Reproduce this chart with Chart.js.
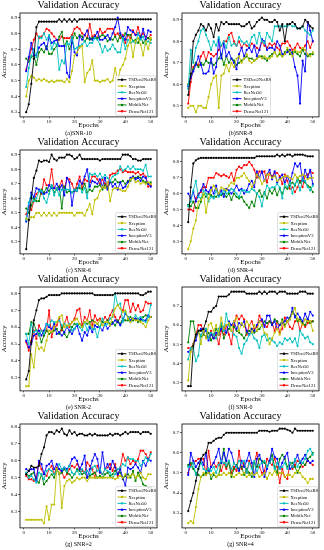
<!DOCTYPE html>
<html>
<head>
<meta charset="utf-8">
<script src="https://cdn.jsdelivr.net/npm/chart.js@4.4.0/dist/chart.umd.min.js"></script>
<style>
  html, body { margin: 0; padding: 0; background: #fff; }
  #grid { position: relative; width: 324px; height: 550px; }
  .cell { position: absolute; width: 162px; height: 137px; }
</style>
</head>
<body>
<div id="grid"></div>
<script>
const epochs = [1,2,3,4,5,6,7,8,9,10,11,12,13,14,15,16,17,18,19,20,21,22,23,24,25,26,27,28,29,30,
  31,32,33,34,35,36,37,38,39,40,41,42,43,44,45,46,47,48,49,50];
const modelNames = ['TSDen2NetBS', 'Xception', 'ResNet50', 'InceptionV3', 'MobileNet', 'DenseNet121'];
const modelColors = ['#000000', '#bfbf00', '#00bfbf', '#0000ff', '#008000', '#ff0000'];
const captions = ['(a)SNR-10', '(b)SNR-8', '(c) SNR-6', '(d) SNR-4', '(e) SNR-2', '(f) SNR-0', '(g) SNR=2', '(g) SNR=4'];
const legendPos = ['lr', 'lc', 'lr', 'lr', 'lr', 'lr', 'lr', 'lr'];

// (a) SNR-10
const a_tsd = [0.30,0.35,0.48,0.64,0.84,0.875,0.875,0.875,0.875,0.875,0.875,0.875,0.875,0.89,0.875,0.89,0.875,0.89,0.875,0.89,
  0.875,0.89,0.89,0.89,0.89,0.89,0.89,0.89,0.89,0.89,0.89,0.89,0.89,0.89,0.89,0.89,0.89,0.89,0.89,0.89,
  0.89,0.89,0.89,0.89,0.89,0.89,0.89,0.89,0.89,0.89];
const a_xcp = [0.40,0.50,0.53,0.52,0.50,0.51,0.50,0.51,0.50,0.49,0.50,0.49,0.50,0.50,0.50,0.49,0.51,0.49,0.56,0.66,
  0.68,0.71,0.72,0.49,0.55,0.57,0.63,0.50,0.50,0.49,0.50,0.50,0.51,0.49,0.50,0.58,0.50,0.57,0.60,0.64,
  0.72,0.76,0.65,0.75,0.77,0.73,0.66,0.75,0.70,0.77];
const a_res = [0.46,0.58,0.66,0.70,0.65,0.78,0.77,0.80,0.76,0.79,0.70,0.74,0.73,0.57,0.63,0.61,0.74,0.73,0.78,0.70,
  0.71,0.72,0.73,0.75,0.72,0.74,0.74,0.77,0.76,0.73,0.68,0.72,0.69,0.70,0.73,0.70,0.68,0.68,0.77,0.70,
  0.76,0.74,0.75,0.74,0.80,0.76,0.78,0.73,0.75,0.74];
const a_inc = [0.56,0.65,0.74,0.66,0.66,0.71,0.73,0.74,0.70,0.78,0.74,0.75,0.76,0.72,0.72,0.72,0.55,0.52,0.77,0.68,
  0.66,0.78,0.76,0.79,0.82,0.77,0.76,0.78,0.81,0.76,0.76,0.77,0.79,0.76,0.80,0.84,0.90,0.80,0.78,0.76,
  0.84,0.82,0.81,0.79,0.80,0.77,0.83,0.76,0.82,0.81];
const a_mob = [0.64,0.62,0.65,0.66,0.60,0.68,0.70,0.68,0.72,0.67,0.67,0.70,0.72,0.78,0.81,0.72,0.75,0.70,0.74,0.80,
  0.77,0.79,0.78,0.75,0.77,0.76,0.77,0.78,0.77,0.78,0.79,0.78,0.75,0.77,0.76,0.78,0.75,0.79,0.76,0.80,
  0.79,0.79,0.75,0.76,0.74,0.78,0.74,0.76,0.77,0.76];
const a_den = [0.57,0.64,0.70,0.76,0.80,0.77,0.78,0.80,0.83,0.82,0.80,0.78,0.76,0.76,0.78,0.77,0.77,0.77,0.79,0.83,
  0.84,0.83,0.80,0.79,0.77,0.86,0.78,0.79,0.77,0.83,0.80,0.81,0.83,0.83,0.83,0.79,0.80,0.77,0.79,0.74,
  0.79,0.77,0.82,0.79,0.84,0.78,0.80,0.78,0.77,0.79];

// (b) SNR-8
const b_tsd = [0.55,0.65,0.80,0.83,0.85,0.88,0.87,0.85,0.88,0.86,0.82,0.88,0.85,0.89,0.88,0.89,0.88,0.88,0.88,0.88,
  0.88,0.87,0.87,0.88,0.89,0.86,0.87,0.89,0.90,0.91,0.90,0.90,0.89,0.89,0.90,0.89,0.85,0.88,0.80,0.88,
  0.88,0.89,0.88,0.86,0.86,0.87,0.90,0.89,0.87,0.86];
const b_xcp = [0.49,0.50,0.50,0.47,0.50,0.50,0.49,0.49,0.54,0.60,0.63,0.64,0.49,0.64,0.65,0.69,0.66,0.70,0.68,0.72,
  0.73,0.70,0.72,0.74,0.71,0.70,0.71,0.72,0.73,0.72,0.73,0.72,0.72,0.73,0.75,0.73,0.75,0.73,0.74,0.77,
  0.75,0.73,0.76,0.75,0.75,0.77,0.76,0.74,0.73,0.75];
const b_res = [0.58,0.76,0.70,0.77,0.80,0.85,0.86,0.83,0.80,0.76,0.80,0.78,0.82,0.78,0.80,0.77,0.82,0.78,0.79,0.78,
  0.82,0.80,0.79,0.80,0.78,0.82,0.83,0.79,0.84,0.80,0.79,0.84,0.82,0.80,0.87,0.87,0.87,0.87,0.87,0.87,
  0.88,0.87,0.87,0.86,0.86,0.87,0.85,0.84,0.83,0.85];
const b_inc = [0.59,0.63,0.66,0.69,0.73,0.69,0.65,0.65,0.66,0.72,0.65,0.68,0.81,0.72,0.79,0.73,0.75,0.72,0.70,0.67,
  0.74,0.77,0.73,0.76,0.77,0.75,0.78,0.73,0.76,0.81,0.80,0.76,0.77,0.77,0.76,0.80,0.78,0.74,0.74,0.75,
  0.76,0.74,0.68,0.64,0.51,0.71,0.66,0.89,0.85,0.80];
const b_mob = [0.60,0.64,0.67,0.70,0.68,0.70,0.69,0.71,0.70,0.70,0.69,0.70,0.72,0.74,0.69,0.73,0.70,0.72,0.71,0.69,
  0.70,0.71,0.72,0.73,0.72,0.72,0.71,0.72,0.73,0.73,0.72,0.71,0.73,0.74,0.75,0.73,0.74,0.73,0.75,0.76,
  0.74,0.75,0.75,0.74,0.73,0.76,0.74,0.73,0.74,0.74];
const b_den = [0.51,0.61,0.68,0.70,0.69,0.73,0.75,0.71,0.75,0.74,0.73,0.74,0.76,0.78,0.80,0.80,0.83,0.84,0.80,0.78,
  0.80,0.77,0.79,0.78,0.77,0.79,0.78,0.77,0.76,0.80,0.78,0.77,0.79,0.78,0.79,0.77,0.76,0.79,0.79,0.80,
  0.78,0.76,0.77,0.79,0.77,0.76,0.78,0.80,0.77,0.80];

// (c) SNR-6
const c_tsd = [0.25,0.45,0.60,0.74,0.79,0.86,0.85,0.86,0.86,0.85,0.90,0.87,0.86,0.88,0.88,0.88,0.90,0.90,0.89,0.87,
  0.88,0.90,0.87,0.87,0.87,0.87,0.87,0.87,0.87,0.86,0.87,0.87,0.87,0.87,0.87,0.87,0.87,0.87,0.90,0.90,
  0.90,0.89,0.87,0.87,0.86,0.86,0.87,0.87,0.87,0.87];
const c_xcp = [0.46,0.45,0.47,0.47,0.50,0.50,0.48,0.50,0.48,0.50,0.48,0.50,0.48,0.50,0.50,0.50,0.50,0.50,0.50,0.48,
  0.50,0.50,0.50,0.48,0.52,0.56,0.49,0.59,0.60,0.65,0.68,0.67,0.71,0.58,0.66,0.67,0.67,0.66,0.65,0.65,
  0.68,0.73,0.74,0.71,0.72,0.70,0.71,0.70,0.71,0.70];
const c_res = [0.45,0.57,0.62,0.58,0.60,0.65,0.65,0.60,0.57,0.63,0.69,0.62,0.67,0.62,0.66,0.66,0.66,0.66,0.64,0.66,
  0.65,0.69,0.64,0.67,0.60,0.77,0.76,0.77,0.75,0.77,0.74,0.76,0.74,0.72,0.75,0.76,0.77,0.82,0.79,0.80,
  0.82,0.80,0.82,0.80,0.80,0.80,0.79,0.83,0.75,0.75];
const c_inc = [0.44,0.55,0.64,0.61,0.67,0.66,0.64,0.63,0.64,0.69,0.67,0.67,0.70,0.66,0.69,0.62,0.74,0.71,0.55,0.66,
  0.65,0.72,0.70,0.75,0.80,0.68,0.72,0.71,0.70,0.73,0.68,0.74,0.66,0.72,0.68,0.70,0.66,0.71,0.67,0.68,
  0.71,0.74,0.75,0.73,0.74,0.72,0.75,0.74,0.70,0.68];
const c_mob = [0.53,0.50,0.55,0.60,0.58,0.58,0.66,0.64,0.67,0.65,0.69,0.64,0.66,0.68,0.53,0.68,0.64,0.65,0.64,0.65,
  0.67,0.67,0.66,0.70,0.64,0.66,0.65,0.68,0.68,0.69,0.66,0.69,0.67,0.71,0.71,0.73,0.71,0.71,0.72,0.70,
  0.72,0.72,0.75,0.74,0.75,0.74,0.72,0.71,0.70,0.71];
const c_den = [0.49,0.54,0.52,0.58,0.63,0.65,0.63,0.73,0.69,0.69,0.80,0.67,0.67,0.68,0.72,0.66,0.74,0.73,0.70,0.65,
  0.70,0.75,0.67,0.73,0.72,0.71,0.75,0.75,0.73,0.70,0.73,0.70,0.68,0.76,0.77,0.77,0.79,0.80,0.78,0.79,
  0.78,0.78,0.78,0.77,0.78,0.76,0.77,0.75,0.68,0.69];

// (d) SNR-4
const d_tsd = [0.42,0.64,0.79,0.81,0.82,0.825,0.825,0.825,0.825,0.825,0.825,0.825,0.825,0.825,0.825,0.825,0.825,0.825,0.825,0.825,
  0.825,0.825,0.825,0.825,0.825,0.825,0.825,0.835,0.835,0.835,0.835,0.835,0.835,0.835,0.835,0.845,0.835,0.845,0.835,0.845,
  0.845,0.835,0.845,0.845,0.845,0.845,0.84,0.835,0.835,0.835];
const d_xcp = [0.25,0.30,0.38,0.43,0.55,0.56,0.60,0.48,0.57,0.62,0.65,0.63,0.60,0.64,0.63,0.62,0.65,0.67,0.66,0.70,
  0.70,0.71,0.73,0.70,0.68,0.64,0.67,0.72,0.70,0.66,0.68,0.72,0.72,0.70,0.71,0.68,0.69,0.70,0.71,0.71,
  0.70,0.69,0.72,0.70,0.71,0.72,0.71,0.69,0.70,0.70];
const d_res = [0.52,0.55,0.62,0.68,0.58,0.57,0.62,0.60,0.55,0.58,0.57,0.62,0.58,0.60,0.62,0.60,0.61,0.63,0.62,0.60,
  0.58,0.62,0.62,0.61,0.61,0.63,0.62,0.60,0.58,0.52,0.60,0.65,0.63,0.64,0.64,0.66,0.64,0.57,0.66,0.64,
  0.67,0.60,0.66,0.68,0.62,0.69,0.68,0.64,0.62,0.65];
const d_inc = [0.60,0.57,0.61,0.55,0.59,0.62,0.66,0.62,0.61,0.64,0.60,0.65,0.59,0.62,0.58,0.63,0.62,0.60,0.62,0.65,
  0.62,0.63,0.60,0.62,0.66,0.68,0.64,0.74,0.70,0.74,0.68,0.72,0.75,0.69,0.74,0.67,0.70,0.72,0.67,0.71,
  0.67,0.73,0.79,0.77,0.79,0.68,0.75,0.70,0.75,0.66];
const d_mob = [0.53,0.52,0.55,0.51,0.51,0.55,0.60,0.58,0.60,0.59,0.58,0.58,0.60,0.59,0.60,0.58,0.60,0.56,0.60,0.58,
  0.57,0.58,0.55,0.53,0.51,0.55,0.52,0.60,0.62,0.58,0.61,0.57,0.62,0.60,0.63,0.59,0.63,0.60,0.64,0.63,
  0.65,0.67,0.65,0.70,0.67,0.69,0.67,0.65,0.64,0.61];
const d_den = [0.50,0.50,0.49,0.57,0.60,0.61,0.64,0.64,0.70,0.70,0.70,0.73,0.72,0.71,0.72,0.71,0.70,0.73,0.68,0.75,
  0.77,0.76,0.78,0.78,0.80,0.78,0.75,0.70,0.74,0.73,0.74,0.67,0.73,0.71,0.73,0.73,0.71,0.66,0.72,0.68,
  0.63,0.64,0.61,0.64,0.68,0.64,0.71,0.72,0.74,0.73];

// (e) SNR-2
const e_tsd = [0.29,0.34,0.51,0.64,0.70,0.76,0.77,0.77,0.78,0.79,0.79,0.79,0.79,0.79,0.80,0.80,0.80,0.80,0.80,0.80,
  0.80,0.80,0.80,0.80,0.80,0.80,0.80,0.79,0.79,0.79,0.79,0.79,0.79,0.79,0.79,0.80,0.80,0.80,0.80,0.80,
  0.80,0.80,0.80,0.80,0.80,0.79,0.79,0.80,0.81,0.81];
const e_xcp = [0.25,0.25,0.44,0.36,0.51,0.47,0.48,0.46,0.52,0.58,0.57,0.60,0.63,0.66,0.67,0.60,0.61,0.61,0.63,0.64,
  0.65,0.62,0.60,0.63,0.64,0.62,0.60,0.63,0.62,0.64,0.61,0.63,0.63,0.61,0.67,0.71,0.73,0.71,0.69,0.70,
  0.65,0.63,0.65,0.64,0.64,0.63,0.62,0.60,0.64,0.66];
const e_res = [0.56,0.50,0.62,0.57,0.58,0.55,0.58,0.56,0.62,0.61,0.64,0.63,0.63,0.64,0.61,0.62,0.60,0.62,0.58,0.59,
  0.62,0.60,0.58,0.63,0.58,0.62,0.59,0.59,0.54,0.60,0.65,0.61,0.62,0.65,0.66,0.80,0.73,0.74,0.63,0.69,
  0.66,0.63,0.65,0.67,0.65,0.66,0.64,0.63,0.66,0.73];
const e_inc = [0.52,0.48,0.50,0.55,0.56,0.58,0.55,0.58,0.62,0.60,0.59,0.62,0.56,0.57,0.55,0.57,0.60,0.58,0.56,0.59,
  0.61,0.56,0.52,0.57,0.55,0.60,0.57,0.61,0.60,0.60,0.58,0.62,0.59,0.61,0.62,0.64,0.63,0.61,0.64,0.68,
  0.66,0.64,0.65,0.65,0.64,0.65,0.64,0.64,0.67,0.66];
const e_mob = [0.56,0.56,0.63,0.62,0.58,0.56,0.51,0.55,0.58,0.56,0.57,0.58,0.59,0.56,0.60,0.56,0.54,0.57,0.60,0.62,
  0.61,0.62,0.60,0.63,0.62,0.63,0.64,0.63,0.62,0.60,0.63,0.62,0.64,0.62,0.63,0.61,0.64,0.62,0.65,0.64,
  0.64,0.66,0.64,0.65,0.63,0.64,0.66,0.67,0.66,0.66];
const e_den = [0.51,0.46,0.52,0.58,0.53,0.61,0.58,0.55,0.58,0.70,0.54,0.60,0.61,0.65,0.58,0.62,0.66,0.60,0.63,0.65,
  0.70,0.71,0.61,0.66,0.64,0.70,0.61,0.67,0.64,0.65,0.63,0.66,0.64,0.67,0.70,0.66,0.63,0.66,0.70,0.76,
  0.76,0.69,0.74,0.70,0.73,0.69,0.70,0.75,0.74,0.74];

// (f) SNR-0
const f_tsd = [0.28,0.28,0.49,0.55,0.57,0.57,0.58,0.62,0.67,0.67,0.69,0.70,0.75,0.75,0.75,0.75,0.76,0.775,0.775,0.775,
  0.775,0.775,0.775,0.765,0.765,0.765,0.765,0.765,0.775,0.765,0.775,0.765,0.775,0.775,0.775,0.765,0.775,0.775,0.775,0.765,
  0.765,0.765,0.765,0.765,0.775,0.775,0.775,0.765,0.765,0.765];
const f_xcp = [0.31,0.46,0.50,0.55,0.57,0.50,0.57,0.53,0.60,0.61,0.57,0.60,0.55,0.64,0.58,0.60,0.61,0.57,0.62,0.64,
  0.57,0.61,0.59,0.62,0.60,0.56,0.60,0.57,0.62,0.60,0.56,0.55,0.50,0.53,0.56,0.58,0.55,0.62,0.59,0.62,
  0.63,0.66,0.69,0.63,0.62,0.60,0.63,0.62,0.62,0.57];
const f_res = [0.42,0.48,0.48,0.41,0.44,0.55,0.57,0.58,0.53,0.56,0.55,0.53,0.58,0.61,0.57,0.66,0.60,0.57,0.55,0.54,
  0.48,0.45,0.50,0.52,0.55,0.56,0.53,0.52,0.48,0.54,0.55,0.52,0.53,0.52,0.51,0.49,0.51,0.50,0.53,0.52,
  0.53,0.51,0.53,0.49,0.57,0.55,0.53,0.54,0.51,0.50];
const f_inc = [0.46,0.47,0.50,0.52,0.57,0.58,0.56,0.57,0.52,0.55,0.53,0.56,0.55,0.58,0.59,0.56,0.62,0.60,0.62,0.58,
  0.61,0.60,0.62,0.57,0.55,0.58,0.57,0.60,0.62,0.63,0.59,0.65,0.65,0.60,0.62,0.58,0.60,0.61,0.62,0.64,
  0.63,0.69,0.64,0.66,0.64,0.62,0.66,0.63,0.67,0.65];
const f_mob = [0.51,0.62,0.62,0.54,0.56,0.54,0.55,0.54,0.56,0.52,0.55,0.58,0.55,0.60,0.53,0.56,0.58,0.60,0.59,0.57,
  0.56,0.55,0.53,0.56,0.57,0.58,0.56,0.57,0.58,0.60,0.62,0.61,0.62,0.60,0.63,0.62,0.60,0.63,0.60,0.62,
  0.64,0.67,0.65,0.62,0.63,0.61,0.60,0.63,0.61,0.62];
const f_den = [0.48,0.48,0.50,0.55,0.60,0.60,0.57,0.58,0.53,0.57,0.53,0.55,0.50,0.57,0.55,0.60,0.55,0.50,0.60,0.65,
  0.63,0.65,0.63,0.55,0.60,0.62,0.58,0.59,0.65,0.62,0.60,0.59,0.62,0.61,0.57,0.62,0.56,0.58,0.64,0.62,
  0.59,0.58,0.62,0.63,0.57,0.61,0.59,0.61,0.62,0.62];

// (g) SNR=2
const g_tsd = [0.52,0.54,0.57,0.56,0.56,0.57,0.64,0.68,0.75,0.77,0.77,0.76,0.78,0.77,0.79,0.76,0.75,0.78,0.76,0.77,
  0.75,0.76,0.76,0.75,0.75,0.76,0.75,0.76,0.75,0.75,0.75,0.75,0.75,0.76,0.75,0.76,0.76,0.75,0.76,0.77,
  0.76,0.77,0.77,0.77,0.77,0.76,0.77,0.77,0.77,0.76];
const g_xcp = [0.25,0.25,0.25,0.25,0.25,0.25,0.25,0.23,0.33,0.25,0.34,0.34,0.55,0.53,0.32,0.45,0.48,0.49,0.47,0.48,
  0.50,0.49,0.50,0.50,0.48,0.50,0.50,0.50,0.50,0.50,0.50,0.50,0.50,0.50,0.50,0.49,0.50,0.51,0.50,0.52,
  0.50,0.51,0.52,0.50,0.51,0.53,0.50,0.49,0.52,0.52];
const g_res = [0.53,0.50,0.51,0.49,0.47,0.53,0.52,0.49,0.54,0.55,0.54,0.52,0.54,0.58,0.55,0.56,0.54,0.57,0.53,0.52,
  0.54,0.52,0.55,0.53,0.54,0.52,0.56,0.57,0.54,0.55,0.52,0.55,0.54,0.53,0.50,0.52,0.55,0.56,0.58,0.57,
  0.62,0.61,0.61,0.60,0.60,0.57,0.59,0.62,0.60,0.64];
const g_inc = [0.55,0.54,0.55,0.55,0.48,0.60,0.58,0.52,0.57,0.58,0.60,0.55,0.58,0.55,0.54,0.56,0.55,0.57,0.61,0.62,
  0.60,0.55,0.58,0.63,0.50,0.55,0.60,0.64,0.61,0.53,0.65,0.55,0.58,0.55,0.60,0.56,0.52,0.55,0.50,0.45,
  0.56,0.55,0.56,0.58,0.56,0.53,0.60,0.57,0.61,0.60];
const g_mob = [0.52,0.51,0.52,0.53,0.48,0.47,0.52,0.46,0.48,0.50,0.52,0.50,0.55,0.52,0.53,0.55,0.53,0.52,0.50,0.52,
  0.55,0.54,0.52,0.53,0.50,0.51,0.52,0.53,0.50,0.51,0.50,0.52,0.53,0.51,0.52,0.54,0.52,0.53,0.49,0.51,
  0.52,0.50,0.54,0.48,0.53,0.50,0.46,0.45,0.44,0.44];
const g_den = [0.51,0.49,0.49,0.48,0.50,0.59,0.55,0.52,0.51,0.55,0.57,0.52,0.56,0.55,0.53,0.50,0.52,0.55,0.57,0.56,
  0.58,0.56,0.54,0.53,0.59,0.57,0.55,0.50,0.57,0.53,0.52,0.55,0.56,0.58,0.54,0.58,0.51,0.56,0.64,0.60,
  0.62,0.58,0.60,0.59,0.61,0.66,0.66,0.64,0.61,0.65];

// (h) SNR=4
const h_tsd = [0.31,0.36,0.40,0.46,0.52,0.57,0.59,0.60,0.65,0.65,0.66,0.67,0.675,0.675,0.69,0.70,0.70,0.70,0.70,0.70,
  0.70,0.70,0.70,0.70,0.70,0.70,0.70,0.70,0.71,0.71,0.71,0.71,0.705,0.71,0.71,0.71,0.72,0.72,0.72,0.715,
  0.71,0.70,0.72,0.71,0.71,0.71,0.71,0.71,0.71,0.71];
const h_xcp = [0.25,0.26,0.25,0.33,0.42,0.48,0.50,0.49,0.50,0.49,0.50,0.48,0.49,0.49,0.50,0.49,0.50,0.49,0.48,0.49,
  0.50,0.49,0.50,0.48,0.49,0.50,0.49,0.50,0.48,0.49,0.50,0.47,0.50,0.49,0.51,0.49,0.50,0.50,0.48,0.49,
  0.49,0.48,0.50,0.51,0.50,0.48,0.47,0.45,0.47,0.47];
const h_res = [0.53,0.53,0.55,0.49,0.52,0.55,0.52,0.51,0.52,0.51,0.53,0.50,0.54,0.56,0.55,0.54,0.56,0.52,0.55,0.53,
  0.56,0.55,0.56,0.50,0.55,0.52,0.56,0.50,0.54,0.55,0.56,0.53,0.55,0.57,0.52,0.55,0.52,0.53,0.55,0.52,
  0.55,0.53,0.57,0.53,0.56,0.55,0.57,0.61,0.62,0.59];
const h_inc = [0.49,0.60,0.56,0.53,0.55,0.57,0.54,0.60,0.50,0.53,0.55,0.58,0.62,0.55,0.60,0.56,0.62,0.60,0.55,0.53,
  0.51,0.56,0.53,0.56,0.60,0.55,0.48,0.57,0.59,0.55,0.48,0.52,0.56,0.62,0.58,0.57,0.52,0.55,0.58,0.60,
  0.52,0.53,0.56,0.59,0.55,0.57,0.59,0.56,0.55,0.56];
const h_mob = [0.54,0.55,0.52,0.50,0.49,0.48,0.49,0.50,0.52,0.47,0.49,0.48,0.49,0.55,0.62,0.53,0.55,0.48,0.52,0.54,
  0.52,0.53,0.49,0.52,0.50,0.48,0.55,0.53,0.57,0.56,0.55,0.53,0.56,0.59,0.53,0.50,0.57,0.59,0.57,0.53,
  0.55,0.55,0.53,0.50,0.53,0.55,0.54,0.57,0.58,0.60];
const h_den = [0.50,0.54,0.55,0.56,0.57,0.57,0.57,0.49,0.61,0.53,0.55,0.53,0.55,0.51,0.55,0.52,0.56,0.50,0.53,0.51,
  0.61,0.52,0.55,0.50,0.56,0.53,0.55,0.60,0.53,0.50,0.51,0.57,0.55,0.54,0.57,0.53,0.45,0.52,0.48,0.47,
  0.55,0.52,0.54,0.56,0.55,0.53,0.54,0.56,0.55,0.54];

const panels = [
  [a_tsd, a_xcp, a_res, a_inc, a_mob, a_den],
  [b_tsd, b_xcp, b_res, b_inc, b_mob, b_den],
  [c_tsd, c_xcp, c_res, c_inc, c_mob, c_den],
  [d_tsd, d_xcp, d_res, d_inc, d_mob, d_den],
  [e_tsd, e_xcp, e_res, e_inc, e_mob, e_den],
  [f_tsd, f_xcp, f_res, f_inc, f_mob, f_den],
  [g_tsd, g_xcp, g_res, g_inc, g_mob, g_den],
  [h_tsd, h_xcp, h_res, h_inc, h_mob, h_den]
];

const SERIF = "'Liberation Serif', 'DejaVu Serif', serif";

// frame around the plot area + legend box inside it
const frameLegend = {
  id: 'frameLegend',
  afterDatasetsDraw(chart, args, opts) {
    const { ctx, chartArea: a } = chart;
    ctx.save();
    ctx.strokeStyle = '#000';
    ctx.lineWidth = 0.8;
    ctx.strokeRect(a.left, a.top, a.right - a.left, a.bottom - a.top);

    const rowH = 6.3, w = 40, h = rowH * chart.data.datasets.length + 2;
    const x = opts.pos === 'lc' ? (a.left + a.right) / 2 - w / 2 : a.right - w - 1.5;
    const y = a.bottom - h - 1.5;
    ctx.fillStyle = 'rgba(255,255,255,0.85)';
    ctx.strokeStyle = '#cccccc';
    ctx.lineWidth = 0.6;
    ctx.beginPath();
    ctx.roundRect(x, y, w, h, 1.5);
    ctx.fill();
    ctx.stroke();

    ctx.font = '4.6px ' + SERIF;
    ctx.textBaseline = 'middle';
    chart.data.datasets.forEach((ds, i) => {
      const cy = y + 1 + rowH * (i + 0.5);
      ctx.strokeStyle = ds.borderColor;
      ctx.lineWidth = 1;
      ctx.beginPath();
      ctx.moveTo(x + 2, cy);
      ctx.lineTo(x + 11, cy);
      ctx.stroke();
      ctx.fillStyle = ds.borderColor;
      ctx.beginPath();
      ctx.arc(x + 6.5, cy, 1.2, 0, Math.PI * 2);
      ctx.fill();
      ctx.fillStyle = '#000';
      ctx.fillText(ds.label, x + 13, cy + 0.3);
    });
    ctx.restore();
  }
};

const grid = document.getElementById('grid');

panels.forEach((series, p) => {
  const cell = document.createElement('div');
  cell.className = 'cell';
  cell.style.left = (p % 2) * 162 + 'px';
  cell.style.top = Math.floor(p / 2) * 137 + 'px';
  const canvas = document.createElement('canvas');
  canvas.width = 162;
  canvas.height = 137;
  cell.appendChild(canvas);
  grid.appendChild(cell);

  // matplotlib-like 5% margins around the data
  const all = series.flat();
  const lo = Math.min(...all), hi = Math.max(...all);
  const pad = (hi - lo) * 0.05;

  new Chart(canvas.getContext('2d'), {
    type: 'line',
    data: {
      datasets: series.map((vals, i) => ({
        label: modelNames[i],
        data: vals.map((v, j) => ({ x: epochs[j], y: v })),
        borderColor: modelColors[i],
        backgroundColor: modelColors[i],
        borderWidth: 0.9,
        pointRadius: 1.1,
        pointBorderWidth: 0,
        tension: 0,
        fill: false
      }))
    },
    options: {
      responsive: false,
      animation: false,
      devicePixelRatio: 1,
      layout: { padding: { left: 0, right: 5, top: 0, bottom: 0 } },
      plugins: {
        legend: { display: false },
        tooltip: { enabled: false },
        title: {
          display: true,
          text: 'Validation Accuracy',
          color: '#000',
          font: { family: SERIF, size: 10, weight: 'normal', lineHeight: 1.1 },
          padding: { top: 0, bottom: 2 }
        },
        subtitle: {
          display: true,
          position: 'bottom',
          text: captions[p],
          color: '#000',
          font: { family: SERIF, size: 6, weight: 'normal', lineHeight: 1.1 },
          padding: { top: 1.5, bottom: 0 }
        },
        frameLegend: { pos: legendPos[p] }
      },
      scales: {
        x: {
          type: 'linear',
          min: 1 - 49 * 0.05,
          max: 50 + 49 * 0.05,
          afterFit: (s) => { s.height = 12; },
          border: { display: false },
          grid: { display: true, drawOnChartArea: false, drawTicks: true, tickLength: 1.5, color: '#000', lineWidth: 0.6 },
          ticks: {
            stepSize: 10, includeBounds: false, maxRotation: 0, padding: 0.5,
            color: '#000', font: { family: SERIF, size: 5 },
            callback: (v) => String(v)
          },
          title: {
            display: true, text: 'Epochs', color: '#000', padding: 0,
            font: { family: SERIF, size: 7, lineHeight: 1 }
          }
        },
        y: {
          min: lo - pad,
          max: hi + pad,
          afterFit: (s) => { s.width = 20; },
          border: { display: false },
          grid: { display: true, drawOnChartArea: false, drawTicks: true, tickLength: 2, color: '#000', lineWidth: 0.6 },
          ticks: {
            stepSize: 0.1, includeBounds: false, autoSkip: false, padding: 1,
            color: '#000', font: { family: SERIF, size: 5 },
            callback: (v) => v.toFixed(1)
          },
          title: {
            display: true, text: 'Accuracy', color: '#000', padding: 0,
            font: { family: SERIF, size: 7 }
          }
        }
      }
    },
    plugins: [frameLegend]
  });
});
</script>
</body>
</html>
